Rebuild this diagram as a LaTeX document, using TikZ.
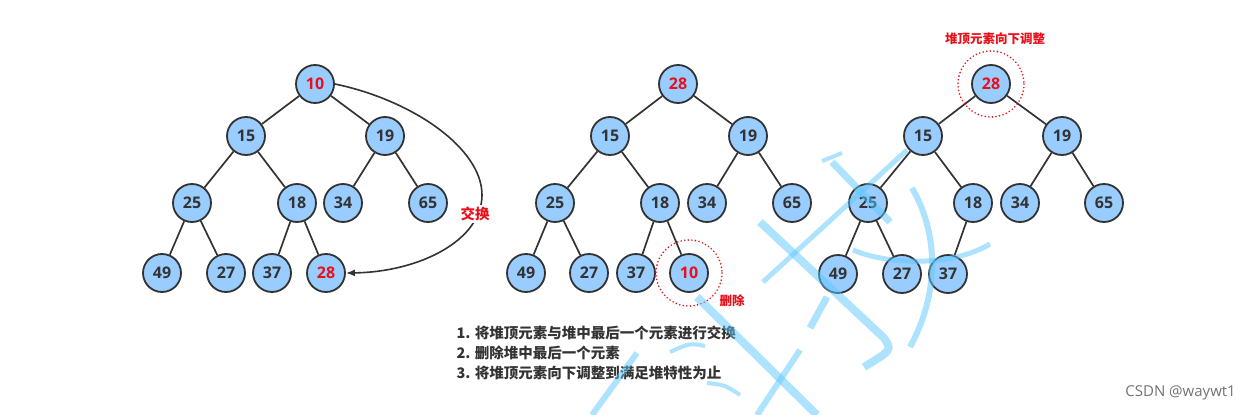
\documentclass[tikz,border=0pt]{standalone}
\usepackage{fontspec}
\setmainfont{Open Sans}
\newfontfamily\cjk{Noto Sans CJK SC}
\usetikzlibrary{arrows.meta}
\definecolor{nodefill}{HTML}{99CCFF}
\definecolor{nodeline}{HTML}{333333}
\definecolor{hlred}{HTML}{E8101A}
\definecolor{wm}{HTML}{5CC8FF}
\tikzset{
  hn/.style={circle, draw=nodeline, line width=1.8pt, fill=nodefill, minimum size=38pt, inner sep=0pt,
    font=\fontsize{16}{18}\selectfont\bfseries, text=nodeline},
  hot/.style={text=hlred},
  edge/.style={draw=nodeline, line width=1.7pt},
  ring/.style={draw=hlred, line width=1.8pt, line cap=round, dash pattern=on 0pt off 3.6pt},
  redlab/.style={text=hlred, font=\cjk\bfseries\fontsize{12.5}{14}\selectfont, inner sep=1pt},
  steps/.style={text=nodeline, font=\cjk\bfseries\fontsize{14.5}{20}\selectfont, align=left, anchor=west},
  wmk/.style={draw=wm, draw opacity=0.5, line cap=butt}
}
\begin{document}
\begin{tikzpicture}[x=1pt,y=-1pt]
\useasboundingbox (0,0) rectangle (1245,415);
\fill[white] (0,0) rectangle (1245,415);
% ---------- left tree ----------
\node[hn,hot] (a10) at (315,84) {10};
\node[hn] (a15) at (246,136) {15};
\node[hn] (a19) at (385,136) {19};
\node[hn] (a25) at (192,203) {25};
\node[hn] (a18) at (297,203) {18};
\node[hn] (a34) at (343,203) {34};
\node[hn] (a65) at (428,203) {65};
\node[hn] (a49) at (162,273) {49};
\node[hn] (a27) at (226,273) {27};
\node[hn] (a37) at (272,273) {37};
\node[hn,hot] (a28) at (326,273) {28};
\foreach \p/\c in {a10/a15,a10/a19,a15/a25,a15/a18,a19/a34,a19/a65,a25/a49,a25/a27,a18/a37,a18/a28}
  \draw[edge] (\p) -- (\c);
\coordinate (cm) at (482,195);
\draw[draw=nodeline, line width=1.6pt, -{Latex[length=9pt,width=7pt]}]
  (a10.east) .. controls (412,100) and (482,148) .. (cm)
  .. controls (482,240) and (420,272) .. (a28.east);
\node[text=hlred, font=\cjk\bfseries\fontsize{14.5}{16}\selectfont, fill=white, inner sep=2pt] (swap) at (475,214) {交换};
% ---------- middle tree ----------
\node[hn,hot] (b28) at (678,84) {28};
\node[hn] (b15) at (610,136) {15};
\node[hn] (b19) at (748,136) {19};
\node[hn] (b25) at (555,203) {25};
\node[hn] (b18) at (660,203) {18};
\node[hn] (b34) at (707,203) {34};
\node[hn] (b65) at (792,203) {65};
\node[hn] (b49) at (526,273) {49};
\node[hn] (b27) at (589,273) {27};
\node[hn] (b37) at (636,273) {37};
\node[hn,hot] (b10) at (689,273) {10};
\foreach \p/\c in {b28/b15,b28/b19,b15/b25,b15/b18,b19/b34,b19/b65,b25/b49,b25/b27,b18/b37,b18/b10}
  \draw[edge] (\p) -- (\c);
\draw[ring] (b10) circle (33);
\node[redlab] (del) at (732,301) {删除};
% ---------- right tree ----------
\node[hn,hot] (c28) at (991,84) {28};
\node[hn] (c15) at (923,136) {15};
\node[hn] (c19) at (1062,136) {19};
\node[hn] (c25) at (868,203) {25};
\node[hn] (c18) at (973,203) {18};
\node[hn] (c34) at (1020,203) {34};
\node[hn] (c65) at (1104,203) {65};
\node[hn] (c49) at (838,274) {49};
\node[hn] (c27) at (902,274) {27};
\node[hn] (c37) at (948,274) {37};
\foreach \p/\c in {c28/c15,c28/c19,c15/c25,c15/c18,c19/c34,c19/c65,c25/c49,c25/c27,c18/c37}
  \draw[edge] (\p) -- (\c);
\draw[ring] (c28) circle (33);
\node[redlab] (adj) at (995,39) {堆顶元素向下调整};
% ---------- steps ----------
\node[steps] (s1) at (453,333) {1. 将堆顶元素与堆中最后一个元素进行交换};
\node[steps] (s2) at (453,353) {2. 删除堆中最后一个元素};
\node[steps] (s3) at (453,373) {3. 将堆顶元素向下调整到满足堆特性为止};
% ---------- footer ----------
\node[text=black!55, font=\fontsize{15}{17}\selectfont, anchor=east, inner sep=0pt] (csdn) at (1236,393) {CSDN @waywt1};
% ---------- watermark (approximate brush strokes) ----------
\draw[wmk, line width=8pt] (760,222) -- (884,338) .. controls (892,350) .. (864,367);
\draw[wmk, line width=7pt] (832,162) -- (890,222);
\draw[wmk, line width=4pt] (822,161) -- (842,153);
\draw[wmk, line width=5pt] (763,282) -- (907,150);
\draw[wmk, line width=6pt] (912,188) .. controls (942,240) and (936,300) .. (910,347);
\draw[wmk, line width=5pt] (853,250) .. controls (885,264) and (950,268) .. (990,244);
\draw[wmk, line width=7pt] (827,297) -- (810,328);
\draw[wmk, line width=8pt] (697,297) -- (817,415);
\draw[wmk, line width=6pt] (800,350) -- (757,415);
\draw[wmk, line width=6pt] (637,353) -- (592,415);
\draw[wmk, line width=4pt] (670,352) .. controls (690,343) .. (705,346);
\draw[wmk, line width=4pt] (707,383) .. controls (725,385) .. (740,395);
\end{tikzpicture}
\end{document}
